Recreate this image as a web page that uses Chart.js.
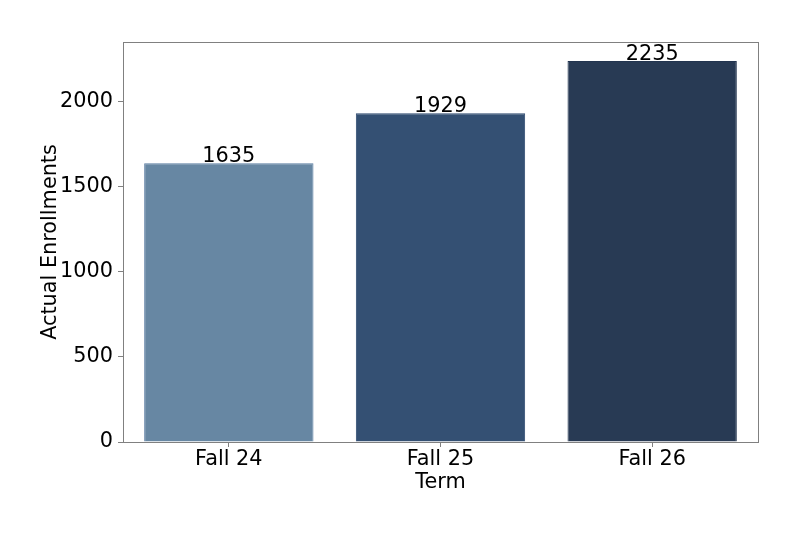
<!DOCTYPE html>
<html>
<head>
<meta charset="utf-8">
<script src="https://cdn.jsdelivr.net/npm/chart.js@4"></script>
<style>
  html, body { margin: 0; padding: 0; background: #ffffff; }
  #wrap { width: 800px; height: 533px; }
</style>
</head>
<body>
<div id="wrap"><canvas id="c" width="800" height="533"></canvas></div>
<script>
const categories = ["Fall 24", "Fall 25", "Fall 26"];
const enrollments = [1635, 1929, 2235];
const yTicks = [0, 500, 1000, 1500, 2000];
const barColors = ["#6787a3", "#345073", "#283a54"];
const barEdges = ["#5a7ca2", "#2c476e", "#22344f"];
const yMax = 2346.75;

const FONT = "'DejaVu Sans', sans-serif";
const FS = 20.8;

const framePlugin = {
  id: 'frame',
  afterDraw(chart) {
    const {ctx, chartArea: a} = chart;
    ctx.save();
    ctx.strokeStyle = '#808080';
    ctx.lineWidth = 1;
    ctx.strokeRect(Math.round(a.left) + 0.5, Math.round(a.top) + 0.5, Math.round(a.right - a.left), Math.round(a.bottom - a.top));
    ctx.restore();
  }
};

const labelPlugin = {
  id: 'barLabels',
  afterDatasetsDraw(chart) {
    const {ctx} = chart;
    const meta = chart.getDatasetMeta(0);
    ctx.save();
    ctx.font = FS + 'px ' + FONT;
    ctx.fillStyle = '#000000';
    ctx.textAlign = 'center';
    ctx.textBaseline = 'alphabetic';
    meta.data.forEach((bar, i) => {
      ctx.fillText(String(enrollments[i]), bar.x, bar.y - 1.5);
    });
    ctx.restore();
  }
};

new Chart(document.getElementById('c'), {
  type: 'bar',
  data: {
    labels: categories,
    datasets: [{
      data: enrollments,
      backgroundColor: barColors,
      borderColor: barEdges,
      borderWidth: 1,
      categoryPercentage: 0.8,
      barPercentage: 1.0
    }]
  },
  options: {
    responsive: false,
    devicePixelRatio: 1,
    animation: false,
    layout: { padding: { top: 42, right: 42, left: 0, bottom: 0 } },
    plugins: { legend: { display: false }, tooltip: { enabled: false } },
    scales: {
      x: {
        offset: true,
        grid: { display: true, drawOnChartArea: false, offset: false, drawTicks: true, tickLength: 5, color: '#808080' },
        border: { display: false },
        ticks: { color: '#000000', font: { family: FONT, size: FS }, padding: 0, maxRotation: 0 },
        title: { display: true, text: 'Term', color: '#000000', font: { family: FONT, size: FS }, padding: { top: 0, bottom: 38 } },
        afterFit(scale) { scale.height = 91; }
      },
      y: {
        min: 0,
        max: yMax,
        grid: { display: true, drawOnChartArea: false, drawTicks: true, tickLength: 5, color: '#808080' },
        border: { display: false },
        ticks: { stepSize: 500, color: '#000000', font: { family: FONT, size: FS }, padding: 5,
                 callback: (v) => String(v) },
        afterBuildTicks(scale) { scale.ticks = yTicks.map(v => ({ value: v })); },
        title: { display: true, text: 'Actual Enrollments', color: '#000000', font: { family: FONT, size: FS }, padding: { top: 38, bottom: 0 } },
        afterFit(scale) { scale.width = 123; }
      }
    }
  },
  plugins: [framePlugin, labelPlugin]
});
</script>
</body>
</html>
